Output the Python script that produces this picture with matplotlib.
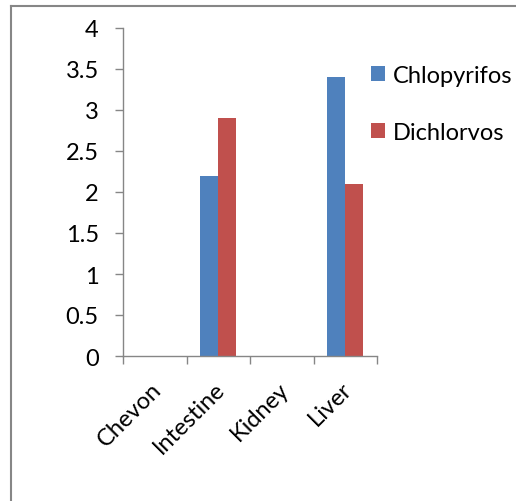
import matplotlib.pyplot as plt
import numpy as np
from matplotlib.lines import Line2D
from matplotlib.transforms import ScaledTranslation

categories = ["Chevon", "Intestine", "Kidney", "Liver"]
chlopyrifos = [0, 2.2, 0, 3.4]
dichlorvos = [0, 2.9, 0, 2.1]
series_names = ["Chlopyrifos", "Dichlorvos"]
y_ticks = [0, 0.5, 1, 1.5, 2, 2.5, 3, 3.5, 4]

BLUE = "#4f81bd"
RED = "#c0504d"
GRAY = "#868686"
FS = 17

plt.rcParams["font.family"] = ["Lato", "DejaVu Sans"]

fig = plt.figure(figsize=(5.16, 5.02), dpi=100, facecolor="white")
ax = fig.add_axes([123 / 516, 1 - 357 / 502, 254 / 516, 328 / 502])

x = np.arange(len(categories))
width = 1 / 3.5
ax.bar(x - width / 2, chlopyrifos, width, color=BLUE, label=series_names[0])
ax.bar(x + width / 2, dichlorvos, width, color=RED, label=series_names[1])

ax.set_xlim(-0.5, len(categories) - 0.5)
ax.set_ylim(0, 4)
ax.set_yticks(y_ticks)
ax.set_yticklabels([f"{v:g}" for v in y_ticks], fontsize=FS)

ax.set_xticks(x)
ax.set_xticklabels(categories, rotation=45, ha="right", va="top",
                   rotation_mode="anchor", fontsize=FS)
ax.set_xticks(np.arange(-0.5, len(categories)), minor=True)
ax.tick_params(axis="x", which="major", length=0, pad=16)
ax.tick_params(axis="x", which="minor", length=5.5, color=GRAY, width=1)
ax.tick_params(axis="y", length=5.5, color=GRAY, width=1, pad=12)

# nudge the slanted category labels a little to the left
shift = ScaledTranslation(-4 / 100, 0, fig.dpi_scale_trans)
for lbl in ax.get_xticklabels():
    lbl.set_transform(lbl.get_transform() + shift)

for side in ["top", "right"]:
    ax.spines[side].set_visible(False)
for side in ["left", "bottom"]:
    ax.spines[side].set_color(GRAY)
    ax.spines[side].set_linewidth(1)

ax.legend(loc="upper left", bbox_to_anchor=(371 / 516, 1 - 66 / 502),
          bbox_transform=fig.transFigure, frameon=False, fontsize=FS,
          handlelength=0.6, handleheight=0.6, handletextpad=0.34,
          labelspacing=1.53, borderaxespad=0, borderpad=0)

# outer frame of the chart area (left and top edges only are visible)
fig.add_artist(Line2D([11 / 516, 11 / 516], [0, 1 - 7 / 502], color=GRAY,
                      linewidth=1.5, transform=fig.transFigure))
fig.add_artist(Line2D([11 / 516, 1], [1 - 7 / 502, 1 - 7 / 502], color=GRAY,
                      linewidth=1.5, transform=fig.transFigure))

fig.savefig("out.png", dpi=100, facecolor="white")
